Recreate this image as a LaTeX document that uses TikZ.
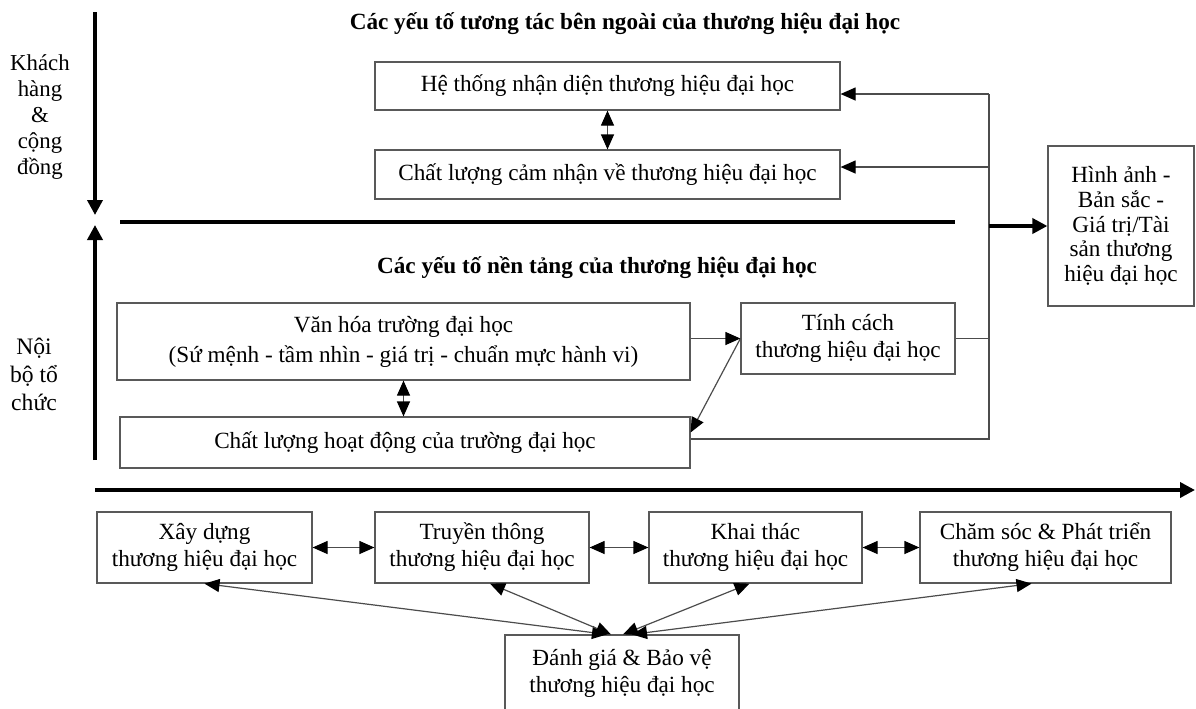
\documentclass[tikz,border=0pt]{standalone}
\usepackage{fontspec}
\setmainfont{Liberation Serif}
\usetikzlibrary{arrows.meta}
\usetikzlibrary{positioning,calc}
\tikzset{
    box/.style={
        draw=black!65,
        line width=0.6pt,
        align=center,
        inner sep=0pt,
        font=\fontsize{11.6}{13.5}\selectfont
      },
    heading/.style={font=\fontsize{11.6}{13.5}\selectfont\bfseries},
    side/.style={align=center, font=\fontsize{11.4}{13}\selectfont},
    link/.style={draw=black!70, line width=0.6pt},
    tip/.style={-{Triangle[length=7.5pt,width=6.5pt,color=black]}},
    both/.style={{Triangle[length=7.5pt,width=6.5pt,color=black]}-{Triangle[length=7.5pt,width=6.5pt,color=black]}},
    heavy/.style={line width=1.8pt, -{Triangle[length=7.5pt,width=7.5pt]}}
}
\begin{document}
\begin{tikzpicture}[x=0.5pt,y=-0.5pt]
  \useasboundingbox (0,0) rectangle (1196,708);
  % top part
  \node[heading] (t1) at (625,24) {Các yếu tố tương tác bên ngoài của thương hiệu đại học};
  \node[box, minimum width=232.5pt, minimum height=24pt] (ht) at (607.5,86) {Hệ thống nhận diện thương hiệu đại học};
  \node[box, minimum width=232.5pt, minimum height=24.5pt] (clcn) at (607.5,174.5) {Chất lượng cảm nhận về thương hiệu đại học};
  \node[side] (kh) at (40,117) {Khách\\hàng\\\&\\cộng\\đồng};
  % foundation part
  \node[heading] (t2) at (597,268) {Các yếu tố nền tảng của thương hiệu đại học};
  \node[box, minimum width=286.5pt, minimum height=38.5pt, font=\fontsize{11.6}{15}\selectfont] (vh) at (403.5,341.5)
    {Văn hóa trường đại học\\(Sứ mệnh - tầm nhìn - giá trị - chuẩn mực hành vi)};
  \node[box, minimum width=285pt, minimum height=25.5pt] (clhd) at (405,442.5) {Chất lượng hoạt động của trường đại học};
  \node[box, minimum width=107pt, minimum height=35.5pt] (tc) at (848,338.5) {Tính cách\\thương hiệu đại học};
  \node[box, minimum width=73pt, minimum height=80pt, font=\fontsize{11.6}{12.3}\selectfont] (ha) at (1121,226)
    {Hình ảnh -\\Bản sắc -\\Giá trị/Tài\\sản thương\\hiệu đại học};
  \node[side, font=\fontsize{11.8}{14}\selectfont] (nb) at (34,374) {Nội\\bộ tổ\\chức};
  % process part
  \node[box, minimum width=107.5pt, minimum height=35.5pt] (xd) at (204.5,547.5) {Xây dựng\\thương hiệu đại học};
  \node[box, minimum width=107pt, minimum height=35.5pt] (tt) at (482,547.5) {Truyền thông\\thương hiệu đại học};
  \node[box, minimum width=106.5pt, minimum height=35.5pt] (kt) at (755.5,547.5) {Khai thác\\thương hiệu đại học};
  \node[box, minimum width=125.5pt, minimum height=35.5pt] (cs) at (1045.5,547.5) {Chăm sóc \& Phát triển\\thương hiệu đại học};
  \node[box, minimum width=117pt, minimum height=38.5pt] (dg) at (622,673.5) {Đánh giá \& Bảo vệ\\thương hiệu đại học};

  % side arrows and dividers
  \draw[heavy] (95,12) -- (95,215);
  \draw[heavy] (95,460) -- (95,225);
  \draw[line width=1.8pt] (120,222) -- (955,222);
  \draw[heavy] (95,490) -- (1195,490);

  % collecting line on the right
  \coordinate (busN) at (989,94);
  \coordinate (busC) at (989,167);
  \coordinate (busS) at (989,439);
  \draw[link] (busS -| clhd.east) -- (busS) -- (busN);
  \draw[link,tip] (busN) -- (busN -| ht.east);
  \draw[link,tip] (busC) -- (busC -| clcn.east);
  \draw[link] (tc.east) -- (tc.east -| busN);
  \draw[heavy] (busN |- ha.west) -- (ha.west);

  \draw[link,both] (ht.south) -- (clcn.north);
  \draw[link,both] (vh.south) -- (vh.south |- clhd.north);
  \draw[link,tip] (vh.east |- tc.west) -- (tc.west);
  \draw[link,tip] (tc.west) -- ([yshift=5pt]clhd.east);

  % process chain
  \foreach \s/\t in {xd/tt,tt/kt,kt/cs}
    \draw[link,both] (\s.east) -- (\t.west);
  \foreach \b/\u/\v in {xd/-7.5/0,tt/-5.5/4,kt/0.5/-3,cs/5/-7}
    \draw[link,both] ([xshift=\u pt]dg.north) -- ([xshift=\v pt]\b.south);
\end{tikzpicture}
\end{document}
